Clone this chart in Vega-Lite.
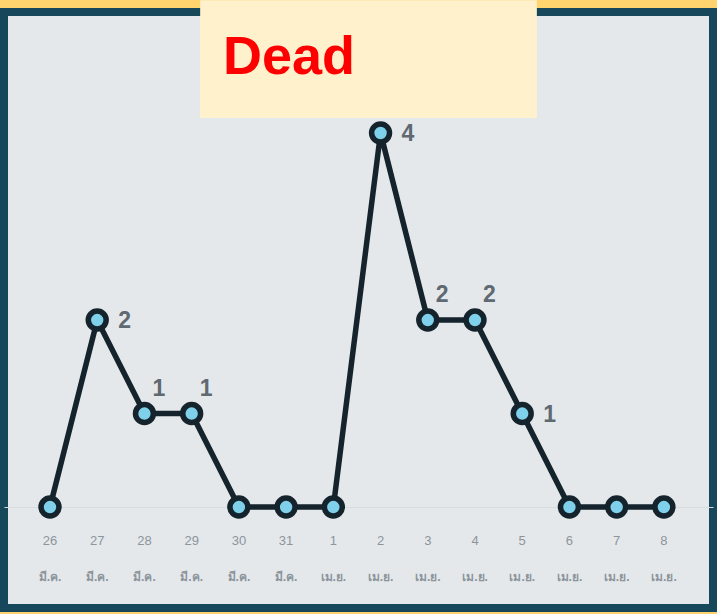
{
  "$schema": "https://vega.github.io/schema/vega-lite/v6.json",
  "autosize": "none",
  "width": 709,
  "height": 596,
  "padding": {"left": 4, "top": 12, "right": 4, "bottom": 6},
  "background": "#FFD36E",
  "config": {
    "view": {"fill": "#E4E8EB", "stroke": "#17475A", "strokeWidth": 8},
    "text": {"font": "Liberation Sans"}
  },
  "data": {
    "values": [
      {"idx": 0, "day": "26", "month": "มี.ค.", "value": 0},
      {"idx": 1, "day": "27", "month": "มี.ค.", "value": 2},
      {"idx": 2, "day": "28", "month": "มี.ค.", "value": 1},
      {"idx": 3, "day": "29", "month": "มี.ค.", "value": 1},
      {"idx": 4, "day": "30", "month": "มี.ค.", "value": 0},
      {"idx": 5, "day": "31", "month": "มี.ค.", "value": 0},
      {"idx": 6, "day": "1", "month": "เม.ย.", "value": 0},
      {"idx": 7, "day": "2", "month": "เม.ย.", "value": 4},
      {"idx": 8, "day": "3", "month": "เม.ย.", "value": 2},
      {"idx": 9, "day": "4", "month": "เม.ย.", "value": 2},
      {"idx": 10, "day": "5", "month": "เม.ย.", "value": 1},
      {"idx": 11, "day": "6", "month": "เม.ย.", "value": 0},
      {"idx": 12, "day": "7", "month": "เม.ย.", "value": 0},
      {"idx": 13, "day": "8", "month": "เม.ย.", "value": 0}
    ]
  },
  "layer": [
    {
      "transform": [{"filter": "datum.idx == 0"}],
      "mark": {"type": "rect", "color": "#FFF1CC", "clip": false},
      "encoding": {
        "x": {"datum": 3.18, "type": "quantitative", "scale": {"domain": [-0.974, 14.04], "nice": false, "zero": false}, "axis": null},
        "x2": {"datum": 10.31},
        "y": {"datum": 5.42, "type": "quantitative", "scale": {"domain": [-1.08, 5.294], "nice": false, "zero": false},
          "axis": {"values": [0], "grid": true, "gridColor": "#D6DBDE", "gridWidth": 1, "domain": false, "ticks": false, "labels": false, "title": null}},
        "y2": {"datum": 4.16}
      }
    },
    {
      "transform": [{"filter": "datum.idx == 0"}],
      "mark": {"type": "text", "text": "Dead", "font": "Liberation Sans", "fontSize": 54, "fontWeight": "bold", "color": "#FF0000", "align": "left", "baseline": "alphabetic"},
      "encoding": {
        "x": {"datum": 3.663, "type": "quantitative"},
        "y": {"datum": 4.631, "type": "quantitative"}
      }
    },
    {
      "mark": {"type": "line", "color": "#15232C", "strokeWidth": 5.5},
      "encoding": {
        "x": {"field": "idx", "type": "quantitative"},
        "y": {"field": "value", "type": "quantitative"}
      }
    },
    {
      "mark": {"type": "point", "shape": "circle", "filled": true, "fill": "#7FD0EA", "stroke": "#15232C", "strokeWidth": 5.5, "size": 320, "opacity": 1},
      "encoding": {
        "x": {"field": "idx", "type": "quantitative"},
        "y": {"field": "value", "type": "quantitative"}
      }
    },
    {
      "transform": [{"filter": {"field": "idx", "oneOf": [1, 7, 10]}}],
      "mark": {"type": "text", "align": "left", "baseline": "middle", "dx": 21, "dy": 1, "fontSize": 23, "fontWeight": "bold", "color": "#5E6972"},
      "encoding": {
        "x": {"field": "idx", "type": "quantitative"},
        "y": {"field": "value", "type": "quantitative"},
        "text": {"field": "value", "type": "quantitative"}
      }
    },
    {
      "transform": [{"filter": {"field": "idx", "oneOf": [2, 3, 8, 9]}}],
      "mark": {"type": "text", "align": "left", "baseline": "middle", "dx": 8, "dy": -25, "fontSize": 23, "fontWeight": "bold", "color": "#5E6972"},
      "encoding": {
        "x": {"field": "idx", "type": "quantitative"},
        "y": {"field": "value", "type": "quantitative"},
        "text": {"field": "value", "type": "quantitative"}
      }
    },
    {
      "mark": {"type": "text", "align": "center", "baseline": "middle", "fontSize": 13, "color": "#8C959C"},
      "encoding": {
        "x": {"field": "idx", "type": "quantitative"},
        "y": {"datum": -0.364, "type": "quantitative"},
        "text": {"field": "day", "type": "nominal"}
      }
    },
    {
      "mark": {"type": "text", "align": "center", "baseline": "middle", "fontSize": 12, "fontWeight": "bold", "color": "#8C959C"},
      "encoding": {
        "x": {"field": "idx", "type": "quantitative"},
        "y": {"datum": -0.749, "type": "quantitative"},
        "text": {"field": "month", "type": "nominal"}
      }
    }
  ]
}
